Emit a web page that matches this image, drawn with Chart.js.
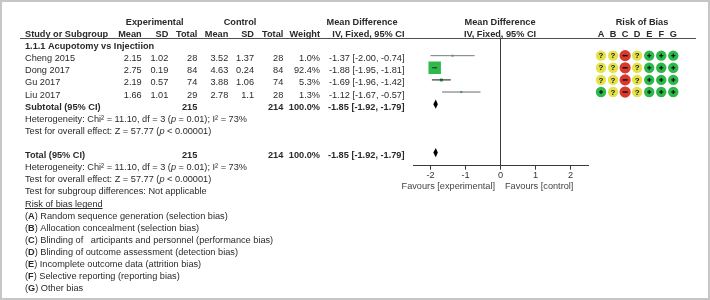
<!DOCTYPE html>
<html>
<head>
<meta charset="utf-8">
<script src="https://cdn.jsdelivr.net/npm/chart.js@4.4.1/dist/chart.umd.min.js"></script>
<style>
  html, body { margin: 0; padding: 0; background: #fff; }
  #wrap { position: relative; width: 710px; height: 300px; }
  #forest { position: absolute; left: 0; top: 0; }
  #bias { position: absolute; left: 585px; top: 0; }
</style>
</head>
<body>
<div id="wrap">
  <canvas id="forest" width="710" height="300"></canvas>
  <canvas id="bias" width="110" height="110"></canvas>
</div>
<script>
// --- data ---
const studies = ['Cheng 2015', 'Dong 2017', 'Gu 2017', 'Liu 2017'];
const expMean = [2.15, 2.75, 2.19, 1.66];
const expSD = [1.02, 0.19, 0.57, 1.01];
const expTotal = [28, 84, 74, 29];
const ctlMean = [3.52, 4.63, 3.88, 2.78];
const ctlSD = [1.37, 0.24, 1.06, 1.1];
const ctlTotal = [28, 84, 74, 28];
const weights = [1.0, 92.4, 5.3, 1.3];
const meanDiff = [-1.37, -1.88, -1.69, -1.12];
const ciLow = [-2.00, -1.95, -1.96, -1.67];
const ciHigh = [-0.74, -1.81, -1.42, -0.57];
const pooled = [-1.85, -1.92, -1.79]; // estimate, lower, upper
const xTicks = [-2, -1, 0, 1, 2];

const biasDomains = ['A', 'B', 'C', 'D', 'E', 'F', 'G'];
const biasJudgements = [
    ['?', '?', '-', '?', '+', '+', '+'],
    ['?', '?', '-', '?', '+', '+', '+'],
    ['?', '?', '-', '?', '+', '+', '+'],
    ['+', '?', '-', '?', '+', '+', '+']
];
const biasLegend = [
    ['A', 'Random sequence generation (selection bias)'],
    ['B', 'Allocation concealment (selection bias)'],
    ['C', 'Blinding of   articipants and personnel (performance bias)'],
    ['D', 'Blinding of outcome assessment (detection bias)'],
    ['E', 'Incomplete outcome data (attrition bias)'],
    ['F', 'Selective reporting (reporting bias)'],
    ['G', 'Other bias']
];

// --- layout ---
const FAMILY = "'Liberation Sans', Arial, sans-serif";
const FS = 9.2;
const ROW = { h1: 0, h2: 1, title: 2, study0: 3, subtotal: 7, het1: 8, test1: 9,
              total: 11, het2: 12, test2: 13, subDiff: 14, legend: 15, legend0: 16 };
const COL = { study: 25, expMean: 141.7, expSD: 168.3, expN: 197.3, ctlMean: 228.3,
              ctlSD: 254, ctlN: 283.3, weight: 320, md: 404.5 };
const BASE = 5.5;
const TEXT = '#2a2a2a';
const GREEN = '#2fb84c';
const ciColors = ['#7a7a7a', '#222', '#111', '#6a6a6a'];

const sum = a => a.reduce((s, v) => s + v, 0);
const f2 = v => v.toFixed(2);
const ciText = (m, lo, hi) => `${f2(m)} [${f2(lo)}, ${f2(hi)}]`;

function put(ctx, s, x, y, align, style, color) {
    ctx.font = `${style || ''} ${FS}px ${FAMILY}`;
    ctx.textAlign = align || 'left';
    ctx.textBaseline = 'alphabetic';
    ctx.fillStyle = color || TEXT;
    ctx.fillText(s, x, y);
}

// text made of pieces with different styles, left to right
function runs(ctx, x, y, parts) {
    parts.forEach(([s, style]) => {
        put(ctx, s, x, y, 'left', style);
        x += ctx.measureText(s).width;
    });
}

const hetParts = [['Heterogeneity: Chi² = 11.10, df = 3 (', ''], ['p', 'italic'], [' = 0.01); I² = 73%', '']];
const testParts = [['Test for overall effect: Z = 57.77 (', ''], ['p', 'italic'], [' < 0.00001)', '']];

const forestText = {
    id: 'forestText',
    beforeDraw(chart) {
        const ctx = chart.ctx;
        ctx.save();
        ctx.fillStyle = '#fff';
        ctx.fillRect(0, 0, chart.width, chart.height);
        ctx.strokeStyle = '#c6c6c6';
        ctx.lineWidth = 2;
        ctx.strokeRect(1, 1, chart.width - 2, chart.height - 2);
        ctx.restore();
    },
    afterDatasetsDraw(chart) {
        // pooled diamonds
        const ctx = chart.ctx, xs = chart.scales.x, ys = chart.scales.y;
        const [m, lo, hi] = pooled;
        [ROW.subtotal, ROW.total].forEach(r => {
            const cy = ys.getPixelForValue(r);
            ctx.save();
            ctx.beginPath();
            ctx.moveTo(xs.getPixelForValue(lo), cy);
            ctx.lineTo(xs.getPixelForValue(m), cy - 4.6);
            ctx.lineTo(xs.getPixelForValue(hi), cy);
            ctx.lineTo(xs.getPixelForValue(m), cy + 4.6);
            ctx.closePath();
            ctx.fillStyle = '#000';
            ctx.fill();
            ctx.restore();
        });
    },
    afterDraw(chart) {
        const ctx = chart.ctx, ys = chart.scales.y, area = chart.chartArea;
        const y = r => ys.getPixelForValue(r) + BASE;
        ctx.save();

        // header rule
        ctx.strokeStyle = '#505050';
        ctx.lineWidth = 1;
        ctx.beginPath();
        ctx.moveTo(20, Math.round(area.top) + 0.5);
        ctx.lineTo(696, Math.round(area.top) + 0.5);
        ctx.stroke();

        // headers
        put(ctx, 'Experimental', 154.7, y(ROW.h1), 'center', 'bold');
        put(ctx, 'Control', 240, y(ROW.h1), 'center', 'bold');
        put(ctx, 'Mean Difference', 362, y(ROW.h1), 'center', 'bold');
        put(ctx, 'Mean Difference', 500, y(ROW.h1), 'center', 'bold');
        put(ctx, 'Risk of Bias', 642, y(ROW.h1), 'center', 'bold');

        const h2 = y(ROW.h2);
        put(ctx, 'Study or Subgroup', COL.study, h2, 'left', 'bold');
        put(ctx, 'Mean', COL.expMean, h2, 'right', 'bold');
        put(ctx, 'SD', COL.expSD, h2, 'right', 'bold');
        put(ctx, 'Total', COL.expN, h2, 'right', 'bold');
        put(ctx, 'Mean', COL.ctlMean, h2, 'right', 'bold');
        put(ctx, 'SD', COL.ctlSD, h2, 'right', 'bold');
        put(ctx, 'Total', COL.ctlN, h2, 'right', 'bold');
        put(ctx, 'Weight', COL.weight, h2, 'right', 'bold');
        put(ctx, 'IV, Fixed, 95% CI', COL.md, h2, 'right', 'bold');
        put(ctx, 'IV, Fixed, 95% CI', 500, h2, 'center', 'bold');

        put(ctx, '1.1.1 Acupotomy vs Injectiion', COL.study, y(ROW.title), 'left', 'bold');

        // study rows
        studies.forEach((s, i) => {
            const yy = y(ROW.study0 + i);
            put(ctx, s, COL.study, yy, 'left');
            put(ctx, String(expMean[i]), COL.expMean, yy, 'right');
            put(ctx, String(expSD[i]), COL.expSD, yy, 'right');
            put(ctx, String(expTotal[i]), COL.expN, yy, 'right');
            put(ctx, String(ctlMean[i]), COL.ctlMean, yy, 'right');
            put(ctx, String(ctlSD[i]), COL.ctlSD, yy, 'right');
            put(ctx, String(ctlTotal[i]), COL.ctlN, yy, 'right');
            put(ctx, weights[i].toFixed(1) + '%', COL.weight, yy, 'right');
            put(ctx, ciText(meanDiff[i], ciLow[i], ciHigh[i]), COL.md, yy, 'right');
        });

        // subtotal + total
        [['Subtotal (95% CI)', ROW.subtotal], ['Total (95% CI)', ROW.total]].forEach(([label, r]) => {
            const yy = y(r);
            put(ctx, label, COL.study, yy, 'left', 'bold');
            put(ctx, String(sum(expTotal)), COL.expN, yy, 'right', 'bold');
            put(ctx, String(sum(ctlTotal)), COL.ctlN, yy, 'right', 'bold');
            put(ctx, sum(weights).toFixed(1) + '%', COL.weight, yy, 'right', 'bold');
            put(ctx, ciText(pooled[0], pooled[1], pooled[2]), COL.md, yy, 'right', 'bold');
        });

        runs(ctx, COL.study, y(ROW.het1), hetParts);
        runs(ctx, COL.study, y(ROW.test1), testParts);
        runs(ctx, COL.study, y(ROW.het2), hetParts);
        runs(ctx, COL.study, y(ROW.test2), testParts);
        put(ctx, 'Test for subgroup differences: Not applicable', COL.study, y(ROW.subDiff), 'left');

        // risk of bias legend
        const ly = y(ROW.legend);
        put(ctx, 'Risk of bias legend', COL.study, ly, 'left');
        const w = ctx.measureText('Risk of bias legend').width;
        ctx.fillStyle = TEXT;
        ctx.fillRect(COL.study, Math.round(ly) + 1, w, 1);
        biasLegend.forEach(([k, s], i) => {
            runs(ctx, COL.study, y(ROW.legend0 + i), [['(', ''], [k, 'bold'], [') ' + s, '']]);
        });

        // favours labels
        const fy = area.bottom + 23;
        put(ctx, 'Favours [experimental]', 495, fy, 'right', '', '#444');
        put(ctx, 'Favours [control]', 505, fy, 'left', '', '#444');
        ctx.restore();
    }
};

const maxW = Math.max(...weights);
const ciSets = studies.map((s, i) => ({
    type: 'line',
    data: [{ x: ciLow[i], y: ROW.study0 + i }, { x: ciHigh[i], y: ROW.study0 + i }],
    borderColor: ciColors[i],
    borderWidth: 1,
    pointRadius: 0
}));
const estSet = {
    type: 'scatter',
    data: studies.map((s, i) => ({ x: meanDiff[i], y: ROW.study0 + i })),
    pointStyle: 'rect',
    pointRadius: weights.map(w => Math.max(1.4, Math.sqrt(w / maxW) * 8.8)),
    backgroundColor: GREEN,
    borderWidth: 0
};

new Chart(document.getElementById('forest'), {
    type: 'scatter',
    data: { datasets: [...ciSets, estSet] },
    options: {
        responsive: false,
        animation: false,
        events: [],
        layout: { padding: { left: 413, right: 122, top: 37.5, bottom: 112.3 } },
        plugins: { legend: { display: false }, tooltip: { enabled: false } },
        scales: {
            x: {
                type: 'linear',
                min: -2.5,
                max: 2.5,
                afterBuildTicks: s => { s.ticks = xTicks.map(v => ({ value: v })); },
                afterFit: s => { s.height = 22; },
                grid: {
                    color: c => (c.tick && c.tick.value === 0 ? '#3a3a3a' : 'rgba(0,0,0,0)'),
                    tickColor: '#3a3a3a',
                    tickLength: 4
                },
                border: { display: true, color: '#3a3a3a' },
                ticks: { color: '#333', padding: 0, font: { family: FAMILY, size: FS }, callback: v => String(v) }
            },
            y: { type: 'linear', display: false, reverse: true, min: 1.5, max: 12.08 }
        }
    },
    plugins: [forestText]
});

// --- risk of bias grid ---
const biasColors = { '+': '#2db84a', '?': '#e3e24a', '-': '#d9382c' };
const biasSets = ['+', '?', '-'].map(code => {
    const pts = [];
    biasJudgements.forEach((row, s) => row.forEach((j, d) => {
        if (j === code) pts.push({ x: biasDomains[d], y: studies[s] });
    }));
    return { code, data: pts, backgroundColor: biasColors[code], borderWidth: 0,
             pointRadius: code === '-' ? 5.6 : 5.2 };
});

const biasMarks = {
    id: 'biasMarks',
    afterDatasetsDraw(chart) {
        const ctx = chart.ctx;
        ctx.save();
        ctx.fillStyle = '#111';
        chart.data.datasets.forEach((ds, di) => {
            chart.getDatasetMeta(di).data.forEach(pt => {
                const x = pt.x, y = pt.y;
                if (ds.code === '?') {
                    ctx.font = `bold 8px ${FAMILY}`;
                    ctx.textAlign = 'center';
                    ctx.textBaseline = 'middle';
                    ctx.fillText('?', x, y + 0.5);
                } else if (ds.code === '+') {
                    ctx.fillRect(x - 2, y - 0.6, 4, 1.2);
                    ctx.fillRect(x - 0.6, y - 2, 1.2, 4);
                } else {
                    ctx.fillRect(x - 2.6, y - 0.7, 5.2, 1.4);
                }
            });
        });
        const xs = chart.scales.x;
        const ly = chart.chartArea.top - 49.6 + 31.4 + BASE;
        biasDomains.forEach((d, i) => put(ctx, d, xs.getPixelForValue(i), ly, 'center', 'bold'));
        ctx.restore();
    }
};

new Chart(document.getElementById('bias'), {
    type: 'scatter',
    data: { datasets: biasSets },
    options: {
        responsive: false,
        animation: false,
        events: [],
        layout: { padding: { left: 10, right: 15.7, top: 49.6, bottom: 11.9 } },
        plugins: { legend: { display: false }, tooltip: { enabled: false } },
        scales: {
            x: { type: 'category', labels: biasDomains, offset: true, display: false },
            y: { type: 'category', labels: studies, offset: true, display: false }
        }
    },
    plugins: [biasMarks]
});
</script>
</body>
</html>
